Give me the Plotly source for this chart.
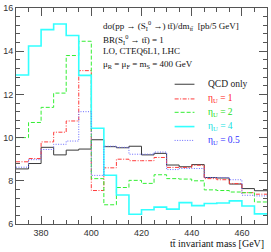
import plotly.graph_objects as go

# bin edges (GeV), 5 GeV bins
bin_edges = [370, 375, 380, 385, 390, 395, 400, 405, 410, 415, 420,
             425, 430, 435, 440, 445, 450, 455, 460, 465, 470]

qcd_only = [8.55, 8.80, 9.55, 9.20, 9.42, 9.47, 9.90, 9.58, 9.53, 9.60,
            9.20, 9.27, 8.73, 8.65, 8.75, 8.15, 8.13, 7.85, 7.64, 7.54]
eta_1 = [8.88, 9.03, 9.80, 10.25, 10.77, 13.10, 7.55, 8.60, 9.00, 8.93,
         8.93, 9.08, 8.62, 8.62, 8.72, 8.10, 8.05, 7.87, 7.45, 7.38]
eta_2 = [10.00, 10.70, 11.40, 12.06, 13.80, 14.46, 8.10, 6.89, 7.69, 8.02,
         7.88, 8.28, 8.10, 8.08, 8.00, 7.58, 7.55, 7.48, 7.45, 7.02]
eta_4 = [12.90, 14.24, 15.00, 15.26, 14.73, 12.88, 10.43, 8.26, 7.34, 6.45,
         6.66, 6.78, 6.69, 6.99, 6.85, 6.95, 6.97, 7.07, 6.83, 6.47]
eta_05 = [8.63, 8.98, 9.45, 9.69, 9.84, 11.20, 8.25, 9.60, 9.55, 9.23,
          9.23, 9.33, 8.52, 8.57, 8.57, 8.15, 8.15, 8.05, 7.33, 7.30]

x_ticks = [380, 400, 420, 440, 460]
y_ticks = [6, 8, 10, 12, 14, 16]

series = [
    ("QCD only", qcd_only, "#3a3a3a", "solid", 1.0, "#222222"),
    ("η<sub>U</sub> = 1", eta_1, "#ff3b3b", "4px,1.5px,1px,1.5px", 1.0, "#ff2020"),
    ("η<sub>U</sub> = 2", eta_2, "#33ee33", "4px,2px", 1.0, "#22dd22"),
    ("η<sub>U</sub> = 4", eta_4, "#33ffff", "solid", 1.6, "#11e0e0"),
    ("η<sub>U</sub> = 0.5", eta_05, "#6a6aff", "1px,1.5px", 1.0, "#3030ff"),
]

fig = go.Figure()
SERIF = "Liberation Serif, DejaVu Serif, serif"

legend_y = [0.647, 0.579, 0.517, 0.451, 0.387]
for (name, vals, color, dash, width, tcolor), ly in zip(series, legend_y):
    fig.add_trace(go.Scatter(
        x=bin_edges, y=list(vals) + [vals[-1]],
        mode="lines", line=dict(color=color, dash=dash, width=width, shape="hv"),
        showlegend=False, hoverinfo="skip"))
    # manual legend entry
    fig.add_shape(type="line", xref="paper", yref="paper",
                  x0=0.632, x1=0.711, y0=ly, y1=ly,
                  line=dict(color=color, dash=dash, width=width))
    fig.add_annotation(xref="paper", yref="paper", x=0.758, y=ly,
                       text=name, showarrow=False, xanchor="left", yanchor="middle",
                       font=dict(family=SERIF, size=9.5, color=tcolor))

info_lines = [
    "dσ(pp → (S<sub>I</sub><sup>0</sup> →) tt\u0304)/dm<sub>tt\u0304</sub>  [pb/5 GeV]",
    "BR(S<sub>I</sub><sup>0</sup> → tt\u0304) = 1",
    "LO, CTEQ6L1, LHC",
    "μ<sub>R</sub> = μ<sub>F</sub> = m<sub>S</sub> = 400 GeV",
]
info_y = [0.917, 0.856, 0.800, 0.738]
for txt, yy in zip(info_lines, info_y):
    fig.add_annotation(xref="paper", yref="paper", x=0.338, y=yy, text=txt,
                       showarrow=False, xanchor="left", yanchor="middle",
                       font=dict(family=SERIF, size=9, color="#111111"))

fig.add_annotation(xref="paper", yref="paper", x=0.995, y=-0.088,
                   text="tt\u0304 invariant mass [GeV]", showarrow=False,
                   xanchor="right", yanchor="middle",
                   font=dict(family=SERIF, size=10, color="#111111"))

axis_common = dict(showgrid=False, zeroline=False, showline=True, linecolor="#555555",
                   linewidth=1, mirror="ticks", ticks="inside", tickcolor="#555555",
                   tickfont=dict(family="Liberation Sans, Arial, sans-serif", size=9,
                                 color="#333333"))
fig.update_xaxes(range=[370, 470], tickvals=x_ticks, ticklen=8,
                 minor=dict(dtick=5, tick0=370, ticklen=4, ticks="inside",
                            tickcolor="#555555"),
                 **axis_common)
fig.update_yaxes(range=[6, 16], tickvals=y_ticks, ticklen=8,
                 minor=dict(dtick=0.4, tick0=6, ticklen=4, ticks="inside",
                            tickcolor="#555555"),
                 **axis_common)

fig.update_layout(width=271, height=252, margin=dict(l=15, r=3, t=5, b=28),
                  paper_bgcolor="white", plot_bgcolor="white")

fig.write_html("out.html", config={"displayModeBar": False},
               post_script="document.body.style.margin='0';document.body.style.overflow='hidden';")
